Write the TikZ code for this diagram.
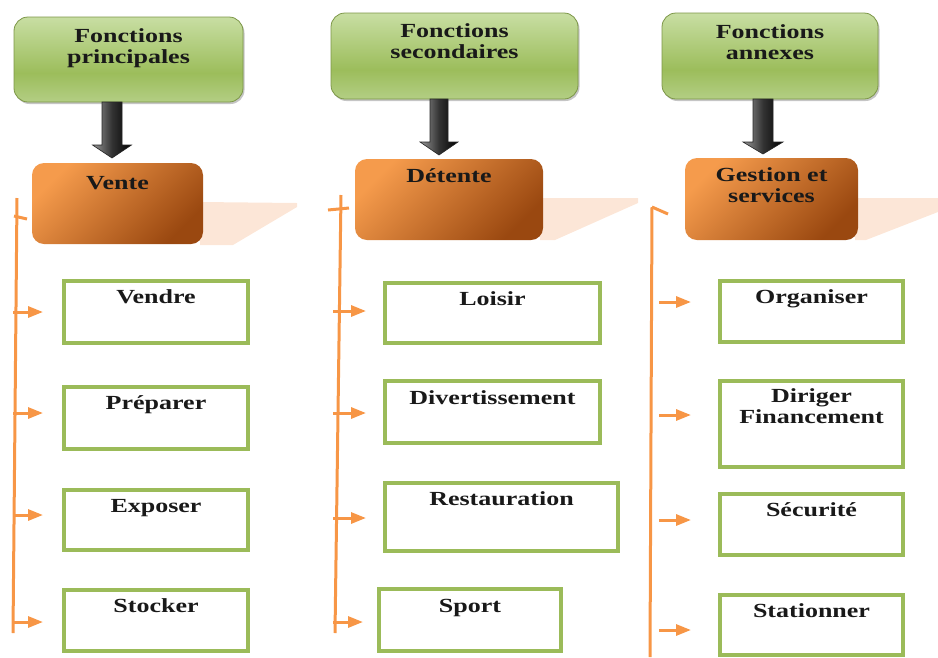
\documentclass[tikz,border=0pt]{standalone}
\usepackage{fontspec}
\setmainfont{Liberation Serif}[FakeStretch=1.3]
\usetikzlibrary{arrows.meta,calc,shadows}

\definecolor{gline}{HTML}{9BBB59}
\definecolor{oline}{HTML}{F79646}
\definecolor{peach}{HTML}{FCE6D7}
\definecolor{gtop}{HTML}{C8DEA3}
\definecolor{gmid}{HTML}{9CBD5B}
\definecolor{gbot}{HTML}{B3CE84}
\definecolor{olight}{HTML}{F59B4C}
\definecolor{odark}{HTML}{9A4810}

% light top, darker lower middle, slightly lighter bottom
\pgfdeclareverticalshading{greenfill}{100bp}{%
  color(0bp)=(gbot); color(25bp)=(gbot); color(42bp)=(gmid);
  color(75bp)=(gtop); color(100bp)=(gtop)}

% framed panel: style, name, x1, y1, x2, y2, text, first baseline below top
\newcommand\panel[8]{%
  \node[#1, minimum width={(#5)-(#3)}, minimum height={(#6)-(#4)}]
    (#2) at ({((#3)+(#5))/2},{((#4)+(#6))/2}) {};
  \node[lbl] (#2-t) at ({((#3)+(#5))/2},{(#4)+(#8)-15}) {#7};}

\begin{document}
\begin{tikzpicture}[x=1pt,y=-1pt,
  topbox/.style={shade, shading=greenfill, draw=gline!80!black, line width=0.8pt,
    rounded corners=14pt, inner sep=0pt,
    drop shadow={shadow xshift=1.5pt, shadow yshift=-2pt, fill=black!45, opacity=0.5}},
  midbox/.style={top color=olight, bottom color=odark, shading angle=45,
    rounded corners=12pt, inner sep=0pt},
  leafbox/.style={draw=gline, line width=4pt, fill=white, inner sep=0pt},
  lbl/.style={font=\bfseries\fontsize{20}{21}\selectfont, align=center,
    inner sep=0pt, anchor=north, text=black!90,
    execute at begin node={\rule{0pt}{15pt}}},
  bigarrow/.style={left color=black!40, right color=black, middle color=black!80,
    draw=black!85, line width=0.6pt, line join=miter},
  bracket/.style={draw=oline, line width=3pt},
  harrow/.style={draw=oline, line width=3pt,
    -{Triangle[length=15pt,width=11pt]}},
]
\useasboundingbox (0,0) rectangle (938,657);

% pale shadows trailing to the right of the orange headings
\fill[peach] (200,202) -- (297,203) -- (297,207) -- (233,245) -- (200,245) -- cycle;
\fill[peach] (540,198) -- (638,198) -- (638,203) -- (555,240) -- (540,240) -- cycle;
\fill[peach] (855,198) -- (938,198) -- (938,212) -- (866,240) -- (855,240) -- cycle;

% green headings
\panel{topbox}{g1}{14}{17}{243}{102}{Fonctions\\principales}{26}
\panel{topbox}{g2}{331}{13}{578}{99}{Fonctions\\secondaires}{25}
\panel{topbox}{g3}{662}{13}{878}{99}{Fonctions\\annexes}{26}

% block arrows down to the orange headings
\coordinate (ar1) at (112,158);
\coordinate (ar2) at (439,155);
\coordinate (ar3) at (763,154);
\path[bigarrow] (ar1) -- ++(-19.5,-13) -- ++(9.5,0) -- ++(0,-43) -- ++(20,0)
  -- ++(0,43) -- ++(9.5,0) -- cycle;
\path[bigarrow] (ar2) -- ++(-19,-13) -- ++(10,0) -- ++(0,-43) -- ++(18,0)
  -- ++(0,43) -- ++(10,0) -- cycle;
\path[bigarrow] (ar3) -- ++(-20,-12) -- ++(10,0) -- ++(0,-43) -- ++(20,0)
  -- ++(0,43) -- ++(10,0) -- cycle;

% orange headings
\panel{midbox}{o1}{32}{163}{203}{244}{Vente}{26}
\panel{midbox}{o2}{355}{159}{543}{240}{Détente}{23}
\panel{midbox}{o3}{685}{158}{858}{240}{Gestion et\\services}{24}

% task boxes
\panel{leafbox}{vendre}{64}{281}{248}{343}{Vendre}{22}
\panel{leafbox}{preparer}{64}{387}{248}{449}{Préparer}{22}
\panel{leafbox}{exposer}{64}{490}{248}{550}{Exposer}{22}
\panel{leafbox}{stocker}{64}{590}{248}{651}{Stocker}{22}

\panel{leafbox}{loisir}{385}{283}{600}{343}{Loisir}{22}
\panel{leafbox}{divert}{385}{381}{600}{443}{Divertissement}{23}
\panel{leafbox}{resto}{385}{483}{618}{551}{Restauration}{22}
\panel{leafbox}{sport}{379}{589}{561}{651}{Sport}{23}

\panel{leafbox}{organiser}{720}{281}{903}{342}{Organiser}{22}
\panel{leafbox}{diriger}{720}{381}{903}{467}{Diriger\\Financement}{22}
\panel{leafbox}{securite}{720}{494}{903}{555}{Sécurité}{22}
\panel{leafbox}{stationner}{720}{595}{903}{655}{Stationner}{22}

% orange brackets
\coordinate (b1top) at (17,198);  \coordinate (b1bot) at (13,633);
\coordinate (b2top) at (341,195); \coordinate (b2bot) at (335,633);
\coordinate (b3top) at (652,207); \coordinate (b3bot) at (650,657);
\draw[bracket] (b1top) -- (b1bot);
\draw[bracket] (b2top) -- (b2bot);
\draw[bracket] (b3top) -- (b3bot);
\draw[bracket] (14,216) -- (27,219);
\draw[bracket] (328,210) -- (349,208);
\draw[bracket] (b3top) -- (668,214);

% branches to the task boxes (offsets in picture units, y pointing down)
\draw[harrow] ($(vendre.west)+(-49,0)$) -- ($(vendre.west)+(-19,0)$);
\draw[harrow] ($(preparer.west)+(-49,-5)$) -- ($(preparer.west)+(-19,-5)$);
\draw[harrow] ($(exposer.west)+(-49,-5)$) -- ($(exposer.west)+(-19,-5)$);
\draw[harrow] ($(stocker.west)+(-49,1.5)$) -- ($(stocker.west)+(-19,1.5)$);

\draw[harrow] ($(loisir.west)+(-50,-2)$) -- ($(loisir.west)+(-17,-2)$);
\draw[harrow] ($(divert.west)+(-50,1)$) -- ($(divert.west)+(-17,1)$);
\draw[harrow] ($(resto.west)+(-50,1)$) -- ($(resto.west)+(-17,1)$);
\draw[harrow] ($(sport.west)+(-44,2)$) -- ($(sport.west)+(-14,2)$);

\draw[harrow] ($(organiser.west)+(-59,-9.5)$) -- ($(organiser.west)+(-27,-9.5)$);
\draw[harrow] ($(diriger.west)+(-59,-9)$) -- ($(diriger.west)+(-27,-9)$);
\draw[harrow] ($(securite.west)+(-59,-4.5)$) -- ($(securite.west)+(-27,-4.5)$);
\draw[harrow] ($(stationner.west)+(-59,5)$) -- ($(stationner.west)+(-27,5)$);
\end{tikzpicture}
\end{document}
